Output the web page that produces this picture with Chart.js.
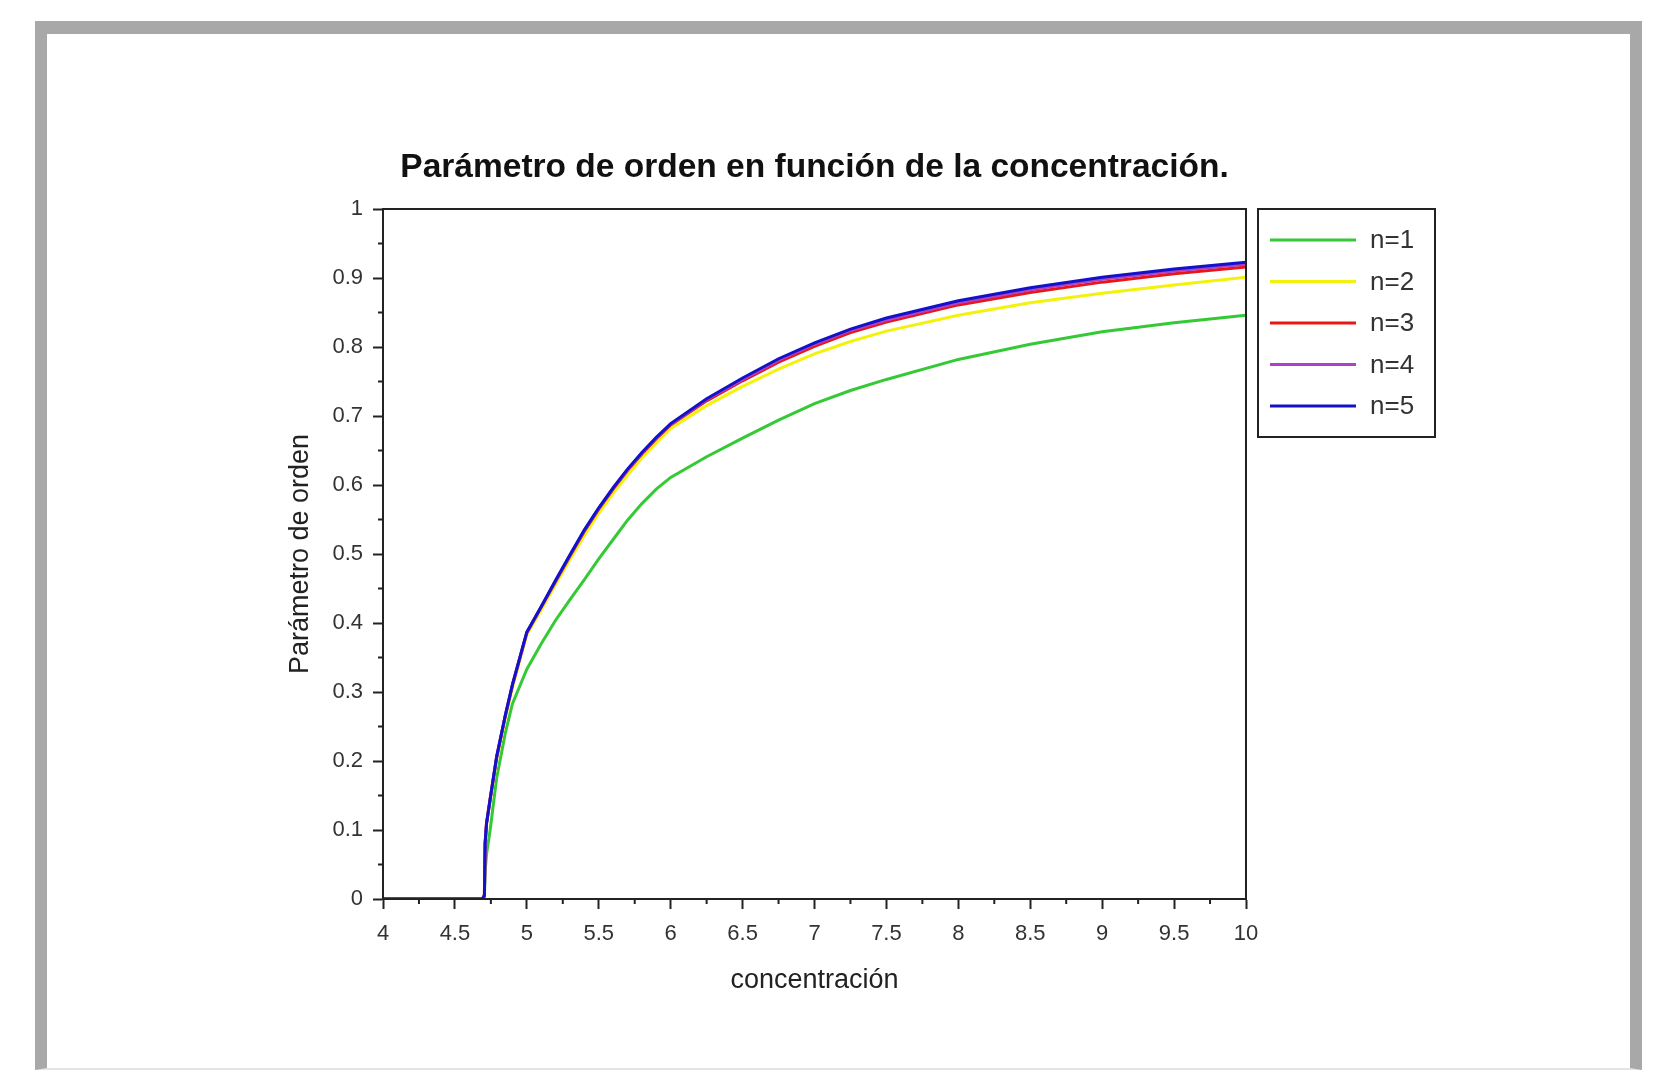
<!DOCTYPE html>
<html>
<head>
<meta charset="utf-8">
<script src="https://cdn.jsdelivr.net/npm/chart.js@4.4.0/dist/chart.umd.min.js"></script>
<style>
  html, body { margin: 0; padding: 0; background: #fff; }
  body { width: 1654px; height: 1072px; position: relative; overflow: hidden; }
  #frame {
    position: absolute; left: 35px; top: 21px; width: 1583px; height: 1034px;
    border-left: 12px solid #a8a8a8; border-top: 13px solid #a8a8a8;
    border-right: 12px solid #a8a8a8; border-bottom: 2px solid #e4e4e4;
  }
  #chart1 { position: absolute; left: 0; top: 0; }
</style>
</head>
<body>
<div id="frame"></div>
<canvas id="chart1" width="1654" height="1072"></canvas>
<script>

const titulo = "Parámetro de orden en función de la concentración.";
const labels = ["n=1", "n=2", "n=3", "n=4", "n=5"];
const colors = ['#35c935', '#f2f20c', '#e81616', '#b040c8', '#1212c8'];

const concentracion = [4, 4.5, 4.69, 4.705, 4.71, 4.72, 4.745, 4.79, 4.85, 4.9,
  5, 5.1, 5.2, 5.3, 5.4, 5.5, 5.6, 5.7, 5.8, 5.9,
  6, 6.25, 6.5, 6.75, 7, 7.25, 7.5, 8, 8.5, 9, 9.5, 10];
const n1 = [0, 0, 0, 0.003, 0.04, 0.065, 0.1, 0.175, 0.24, 0.283,
  0.333, 0.37, 0.404, 0.434, 0.463, 0.493, 0.521, 0.549, 0.573, 0.594,
  0.611, 0.641, 0.668, 0.694, 0.718, 0.737, 0.753, 0.782, 0.804, 0.822, 0.835, 0.846];
const n2 = [0, 0, 0, 0.005, 0.08, 0.108, 0.142, 0.202, 0.262, 0.306,
  0.383, 0.419, 0.456, 0.492, 0.527, 0.559, 0.588, 0.614, 0.639, 0.661,
  0.682, 0.715, 0.743, 0.768, 0.79, 0.808, 0.823, 0.846, 0.864, 0.878, 0.89, 0.901];
const n3 = [0, 0, 0, 0.005, 0.081, 0.11, 0.145, 0.205, 0.265, 0.31,
  0.386, 0.423, 0.46, 0.497, 0.533, 0.565, 0.594, 0.621, 0.645, 0.667,
  0.687, 0.722, 0.751, 0.778, 0.801, 0.821, 0.836, 0.861, 0.879, 0.894, 0.906, 0.916];
const n4 = [0, 0, 0, 0.005, 0.081, 0.11, 0.145, 0.206, 0.266, 0.31,
  0.386, 0.423, 0.461, 0.498, 0.534, 0.566, 0.595, 0.622, 0.646, 0.668,
  0.688, 0.724, 0.753, 0.781, 0.804, 0.824, 0.839, 0.864, 0.883, 0.898, 0.91, 0.92];
const n5 = [0, 0, 0, 0.005, 0.081, 0.11, 0.145, 0.206, 0.266, 0.311,
  0.387, 0.424, 0.462, 0.499, 0.535, 0.567, 0.596, 0.623, 0.647, 0.669,
  0.689, 0.725, 0.755, 0.783, 0.806, 0.826, 0.842, 0.867, 0.886, 0.901, 0.913, 0.923];
const series = [n1, n2, n3, n4, n5];

const xTicks = [4, 4.5, 5, 5.5, 6, 6.5, 7, 7.5, 8, 8.5, 9, 9.5, 10];
const yTicks = [0, 0.1, 0.2, 0.3, 0.4, 0.5, 0.6, 0.7, 0.8, 0.9, 1];

// minor ticks sit halfway between the labelled ones
const mid = (t) => t.slice(1).map((v, i) => (v + t[i]) / 2);
const xMinor = mid(xTicks);
const yMinor = mid(yTicks);

const FONT = '"Liberation Sans", Arial, sans-serif';

const framePlugin = {
  id: 'framePlugin',
  afterDraw(chart) {
    const ctx = chart.ctx;
    const a = chart.chartArea;
    const xs = chart.scales.x, ys = chart.scales.y;
    ctx.save();
    ctx.strokeStyle = '#222';
    ctx.lineWidth = 2;
    ctx.strokeRect(a.left, a.top, a.right - a.left, a.bottom - a.top);

    ctx.beginPath();
    xMinor.forEach(v => {
      const px = xs.getPixelForValue(v);
      ctx.moveTo(px, a.bottom); ctx.lineTo(px, a.bottom + 5);
    });
    yMinor.forEach(v => {
      const py = ys.getPixelForValue(v);
      ctx.moveTo(a.left, py); ctx.lineTo(a.left - 5, py);
    });
    ctx.stroke();

    ctx.fillStyle = '#111';
    ctx.font = 'bold 33.5px ' + FONT;
    ctx.textAlign = 'center';
    ctx.textBaseline = 'middle';
    ctx.fillText(titulo, (a.left + a.right) / 2, a.top - 41);

    // legend box
    const lx = a.right + 12, ly = a.top;
    ctx.strokeRect(lx, ly, 177, 228);
    ctx.font = '26px ' + FONT;
    ctx.textAlign = 'left';
    chart.data.datasets.forEach((ds, i) => {
      const y = ly + 31 + i * 41.5;
      ctx.strokeStyle = ds.borderColor;
      ctx.lineWidth = 3;
      ctx.beginPath();
      ctx.moveTo(lx + 12, y); ctx.lineTo(lx + 98, y);
      ctx.stroke();
      ctx.fillStyle = '#333';
      ctx.fillText(ds.label, lx + 112, y + 1);
    });
    ctx.restore();
  }
};

const myChartData1 = {
  type: 'line',
  data: {
    datasets: series.map((s, i) => ({
      label: labels[i],
      data: concentracion.map((c, j) => ({x: c, y: s[j]})),
      borderColor: colors[i],
      borderWidth: 3,
      pointRadius: 0,
      tension: 0,
      fill: false,
      order: series.length - i
    }))
  },
  options: {
    responsive: false,
    animation: false,
    layout: { padding: { left: 284, right: 408, top: 209, bottom: 75 } },
    plugins: {
      legend: { display: false },
      tooltip: { enabled: false }
    },
    scales: {
      x: {
        type: 'linear',
        min: 4, max: 10,
        afterBuildTicks: (scale) => {
          scale.ticks = xTicks.concat(xMinor).sort((p, q) => p - q).map(v => ({value: v}));
        },
        afterFit: (scale) => { scale.height = 98; },
        ticks: {
          autoSkip: false,
          maxRotation: 0,
          padding: 12,
          color: '#333',
          font: { family: FONT, size: 22 },
          callback: (v) => xTicks.includes(v) ? String(v) : ''
        },
        grid: {
          drawOnChartArea: false,
          tickLength: 10,
          tickWidth: 2,
          tickColor: (c) => xTicks.includes(c.tick.value) ? '#222' : 'rgba(0,0,0,0)'
        },
        border: { display: true, color: '#222', width: 2 },
        title: {
          display: true,
          text: 'concentración',
          color: '#222',
          padding: 0,
          font: { family: FONT, size: 27 }
        }
      },
      y: {
        min: 0, max: 1,
        afterBuildTicks: (scale) => {
          scale.ticks = yTicks.concat(yMinor).sort((p, q) => p - q).map(v => ({value: v}));
        },
        afterFit: (scale) => { scale.width = 99; },
        ticks: {
          autoSkip: false,
          padding: 10,
          color: '#333',
          font: { family: FONT, size: 22 },
          callback: (v) => yTicks.includes(v) ? String(v) : ''
        },
        grid: {
          drawOnChartArea: false,
          tickLength: 10,
          tickWidth: 2,
          tickColor: (c) => yTicks.includes(c.tick.value) ? '#222' : 'rgba(0,0,0,0)'
        },
        border: { display: true, color: '#222', width: 2 },
        title: {
          display: true,
          text: 'Parámetro de orden',
          color: '#222',
          padding: 0,
          font: { family: FONT, size: 27 }
        }
      }
    }
  },
  plugins: [framePlugin]
};

function createChart(chartId, chartData) {
  const ctx = document.getElementById(chartId);
  const myChart = new Chart(ctx, {
      type: chartData.type,
      data: chartData.data,
      options: chartData.options,
      plugins: chartData.plugins
  });
  return myChart;
};

createChart('chart1', myChartData1);

</script>
</body>
</html>
